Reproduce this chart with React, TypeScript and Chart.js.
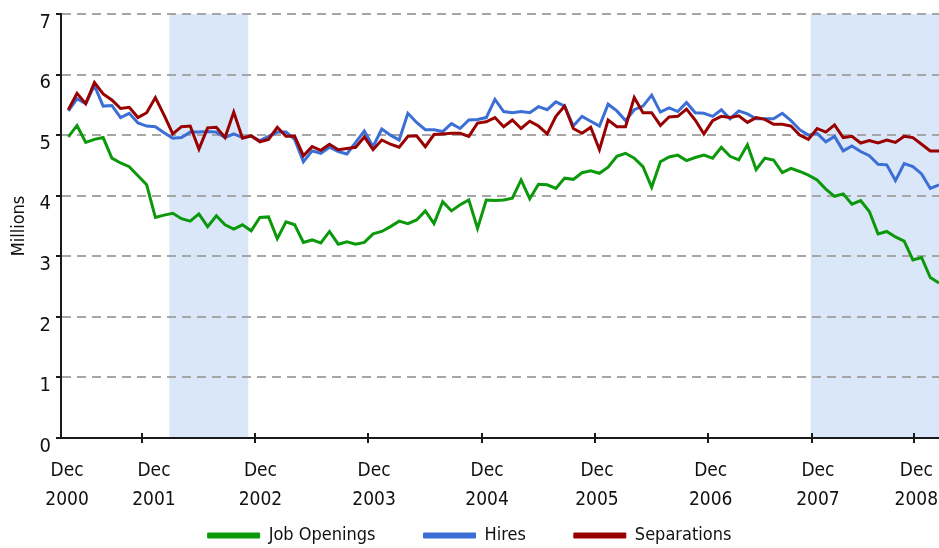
import React, { useEffect, useRef } from 'react';
import { Chart, registerables } from 'chart.js';

Chart.register(...registerables);

// Monthly values, Dec 2000 (index 0) onward, millions
const jobOpenings = [
  4.97, 5.16, 4.88, 4.93, 4.96, 4.62, 4.54, 4.48, 4.33, 4.18,
  3.64, 3.68, 3.71, 3.62, 3.58, 3.70, 3.49, 3.67, 3.52, 3.45,
  3.52, 3.42, 3.64, 3.65, 3.29, 3.57, 3.52, 3.23, 3.27, 3.22,
  3.41, 3.20, 3.24, 3.20, 3.23, 3.37, 3.41, 3.49, 3.58, 3.54,
  3.60, 3.75, 3.54, 3.90, 3.75, 3.85, 3.93, 3.46, 3.93, 3.92,
  3.93, 3.96, 4.26, 3.95, 4.19, 4.18, 4.12, 4.29, 4.27, 4.38,
  4.41, 4.37, 4.47, 4.65, 4.70, 4.62, 4.48, 4.14, 4.56, 4.64,
  4.67, 4.58, 4.63, 4.67, 4.62, 4.80, 4.65, 4.59, 4.84, 4.43,
  4.62, 4.59, 4.38, 4.45, 4.40, 4.34, 4.26, 4.11, 3.99, 4.03,
  3.86, 3.92, 3.74, 3.37, 3.41, 3.32, 3.25, 2.94, 2.98, 2.65,
  2.56,
];

const hires = [
  5.40, 5.60, 5.52, 5.82, 5.48, 5.49, 5.29, 5.36, 5.20, 5.15,
  5.14, 5.04, 4.95, 4.96, 5.05, 5.05, 5.06, 5.05, 4.96, 5.02,
  4.96, 4.98, 4.91, 4.98, 5.05, 5.05, 4.93, 4.56, 4.74, 4.70,
  4.80, 4.73, 4.69, 4.88, 5.07, 4.81, 5.10, 5.00, 4.92, 5.36,
  5.21, 5.09, 5.09, 5.06, 5.19, 5.11, 5.25, 5.26, 5.29, 5.59,
  5.39, 5.37, 5.39, 5.37, 5.47, 5.42, 5.55, 5.48, 5.15, 5.31,
  5.23, 5.15, 5.51, 5.40, 5.24, 5.42, 5.48, 5.66, 5.38, 5.45,
  5.39, 5.54, 5.37, 5.36, 5.31, 5.42, 5.27, 5.40, 5.35, 5.27,
  5.27, 5.27, 5.36, 5.24, 5.09, 5.00, 5.03, 4.89, 4.98, 4.74,
  4.82, 4.73, 4.66, 4.52, 4.51, 4.25, 4.53, 4.48, 4.36, 4.12,
  4.18,
];

const separations = [
  5.42, 5.69, 5.52, 5.87, 5.68, 5.58, 5.44, 5.46, 5.29, 5.37,
  5.62, 5.33, 5.02, 5.14, 5.15, 4.77, 5.12, 5.13, 4.96, 5.38,
  4.95, 4.99, 4.89, 4.93, 5.13, 4.98, 4.98, 4.66, 4.81, 4.75,
  4.85, 4.76, 4.78, 4.80, 4.97, 4.76, 4.92, 4.85, 4.80, 4.98,
  4.99, 4.81, 5.01, 5.02, 5.03, 5.03, 4.98, 5.20, 5.22, 5.29,
  5.14, 5.25, 5.11, 5.23, 5.15, 5.02, 5.31, 5.48, 5.11, 5.03,
  5.13, 4.76, 5.25, 5.14, 5.14, 5.62, 5.37, 5.37, 5.16, 5.30,
  5.31, 5.43, 5.25, 5.02, 5.24, 5.31, 5.29, 5.32, 5.21, 5.29,
  5.26, 5.18, 5.18, 5.15, 5.00, 4.93, 5.11, 5.05, 5.17, 4.96,
  4.98, 4.87, 4.91, 4.87, 4.92, 4.88, 4.98, 4.96, 4.85, 4.74,
  4.74,
];

// x axis (month index) positions of tick labels and tick marks
const xTickLabelValues = [-0.15, 9.84, 22.07, 35.11, 48.09, 60.72, 73.78, 86.1, 97.4];
const xTickLabels = [
  ['Dec', '2000'], ['Dec', '2001'], ['Dec', '2002'], ['Dec', '2003'], ['Dec', '2004'],
  ['Dec', '2005'], ['Dec', '2006'], ['Dec', '2007'], ['Dec', '2008'],
];
const xTickMarkValues = [8.46, 21.44, 34.42, 47.51, 60.49, 73.47, 85.41, 97.13];

// recession shading (month index)
const recessionStarts = [11.6, 85.26];
const recessionEnds = [20.67, 100.84];

const X_MIN = -0.84;
const X_MAX = 100;

const FONT = "'Liberation Sans Narrow', 'DejaVu Sans Condensed', 'Roboto Condensed', 'Roboto', sans-serif";

const toPoints = (arr: number[]) => arr.map((v, i) => ({ x: i, y: v }));

const recessionPlugin = {
  id: 'recessionShade',
  beforeDraw(chart: any) {
    const { ctx, chartArea, scales } = chart;
    const x = scales.x;
    ctx.save();
    ctx.fillStyle = '#dae7f9';
    recessionStarts.forEach((s, i) => {
      const x1 = x.getPixelForValue(s);
      const x2 = Math.min(x.getPixelForValue(recessionEnds[i]), chartArea.right);
      ctx.fillRect(x1, chartArea.top, x2 - x1, chartArea.bottom - chartArea.top);
    });
    ctx.restore();
  },
};

const tickMarkPlugin = {
  id: 'xTickMarks',
  afterDraw(chart: any) {
    const { ctx, chartArea, scales } = chart;
    const x = scales.x;
    ctx.save();
    ctx.strokeStyle = '#1a1a1a';
    ctx.lineWidth = 2;
    xTickMarkValues.forEach((v) => {
      const px = Math.round(x.getPixelForValue(v));
      ctx.beginPath();
      ctx.moveTo(px, chartArea.bottom - 5);
      ctx.lineTo(px, chartArea.bottom + 5);
      ctx.stroke();
    });
    ctx.restore();
  },
};

export default function App() {
  const canvasRef = useRef<HTMLCanvasElement | null>(null);

  useEffect(() => {
    if (!canvasRef.current) return;
    Chart.defaults.font.family = FONT;
    const chart = new Chart(canvasRef.current, {
      type: 'line',
      data: {
        datasets: [
          {
            label: 'Job Openings',
            data: toPoints(jobOpenings),
            borderColor: '#0b990b',
            backgroundColor: '#0b990b',
            borderWidth: 3,
            pointRadius: 0,
            tension: 0,
            order: 2,
          },
          {
            label: 'Hires',
            data: toPoints(hires),
            borderColor: '#3b6fd6',
            backgroundColor: '#3b6fd6',
            borderWidth: 3,
            pointRadius: 0,
            tension: 0,
            order: 1,
          },
          {
            label: 'Separations',
            data: toPoints(separations),
            borderColor: '#990000',
            backgroundColor: '#990000',
            borderWidth: 3,
            pointRadius: 0,
            tension: 0,
            order: 0,
          },
        ],
      },
      options: {
        animation: false,
        responsive: false,
        layout: { padding: { top: 14, left: 0, right: 0, bottom: 0 } },
        plugins: {
          tooltip: { enabled: false },
          legend: {
            position: 'bottom',
            maxHeight: 69.5,
            labels: {
              boxWidth: 52,
              boxHeight: 5,
              padding: 48,
              color: '#111',
              font: { size: 18, family: FONT },
              sort: (a: any, b: any) => a.datasetIndex - b.datasetIndex,
              generateLabels: (c: any) =>
                (Chart.defaults.plugins.legend.labels as any)
                  .generateLabels(c)
                  .map((l: any) => ({ ...l, lineWidth: 1 })),
            },
          },
        },
        scales: {
          x: {
            type: 'linear',
            position: { y: 0 },
            min: X_MIN,
            max: X_MAX,
            afterBuildTicks: (scale: any) => {
              scale.ticks = xTickLabelValues.map((v) => ({ value: v }));
            },
            afterFit: (scale: any) => {
              scale.paddingLeft = 0;
              scale.paddingRight = 0;
            },
            grid: { display: false, drawTicks: false, drawOnChartArea: false },
            border: { display: true, color: '#1a1a1a', width: 2 },
            ticks: {
              autoSkip: false,
              maxRotation: 0,
              minRotation: 0,
              padding: 18,
              color: '#111',
              font: { size: 19, lineHeight: 1.55, family: FONT },
              callback: (_v: any, i: number) => xTickLabels[i],
            },
          },
          xSpace: {
            type: 'linear',
            position: 'bottom',
            axis: 'x',
            min: 0,
            max: 1,
            display: true,
            afterFit: (scale: any) => {
              scale.height = 40.5;
              scale.paddingLeft = 0;
              scale.paddingRight = 0;
            },
            grid: { display: false, drawTicks: false, drawOnChartArea: false },
            border: { display: false },
            ticks: { display: false },
          },
          y: {
            type: 'linear',
            min: 0,
            max: 7,
            afterFit: (scale: any) => {
              scale.width = 61;
              scale.paddingTop = 0;
              scale.paddingBottom = 0;
            },
            grid: {
              color: (ctx: any) => (ctx.tick && ctx.tick.value === 0 ? 'rgba(0,0,0,0)' : '#a6a6a6'),
              lineWidth: 2,
              drawTicks: true,
              tickLength: 5,
              tickColor: '#1a1a1a',
              tickWidth: 2,
            },
            border: { display: true, color: '#1a1a1a', width: 2, dash: [9, 6] },
            ticks: {
              stepSize: 1,
              padding: 5,
              labelOffset: 8.5,
              color: '#111',
              font: { size: 20, family: FONT },
            },
            title: {
              display: true,
              text: 'Millions',
              color: '#111',
              font: { size: 18, family: FONT },
              padding: { top: 9, bottom: 0 },
            },
          },
        },
      } as any,
      plugins: [recessionPlugin, tickMarkPlugin],
    });
    return () => chart.destroy();
  }, []);

  return (
    <div style={{ position: 'absolute', left: 0, top: 0, width: 939, height: 548, background: '#fff' }}>
      <canvas ref={canvasRef} width={939} height={548} style={{ display: 'block' }} />
    </div>
  );
}
